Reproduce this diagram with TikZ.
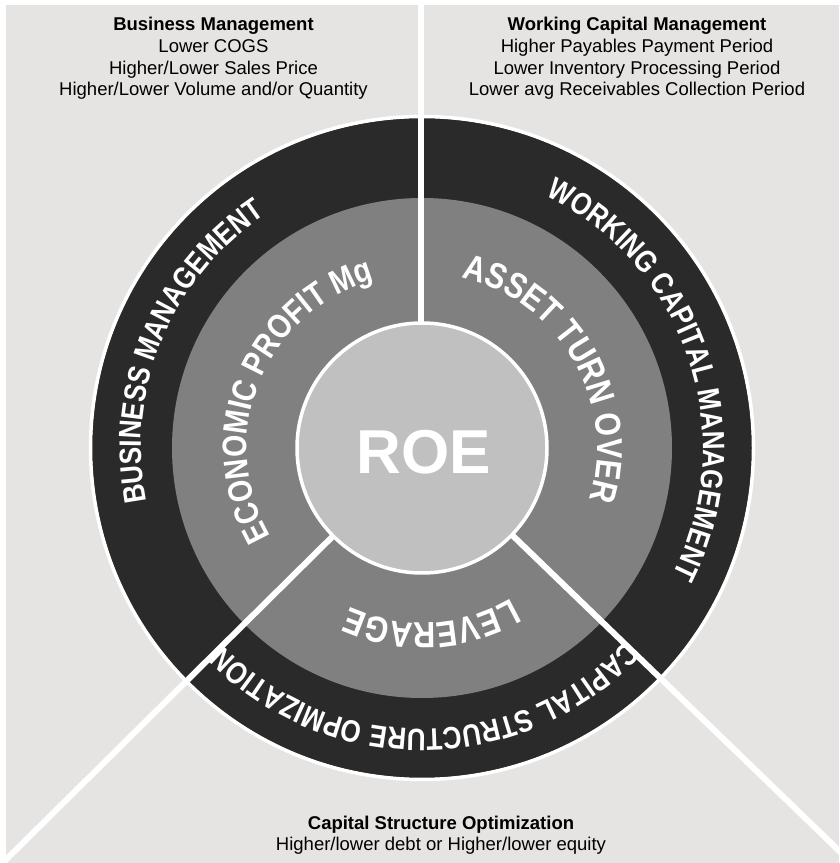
\documentclass[tikz,border=0pt]{standalone}
\usepackage{fontspec}
\setmainfont{Liberation Sans}
\newfontfamily\ringfamily{Liberation Sans}[FakeStretch=0.84]
\usetikzlibrary{calc,decorations.text}

\definecolor{panel}{RGB}{229,228,226}
\definecolor{ringdark}{RGB}{42,42,42}
\definecolor{ringmid}{RGB}{128,128,128}
\definecolor{core}{RGB}{192,192,192}

\newcommand\ringfont[1]{\ringfamily\bfseries\fontsize{#1}{#1}\selectfont}

\tikzset{
  divider/.style={draw=white, line width=6pt},
  infohead/.style={anchor=base, inner sep=0pt, font=\fontsize{18.5}{21.7}\selectfont\bfseries},
  infoline/.style={anchor=base, inner sep=0pt, font=\fontsize{18.5}{21.7}\selectfont},
}

\begin{document}
\begin{tikzpicture}[x=1pt,y=1pt]
\useasboundingbox (0,0) rectangle (839,863);
\clip (0,0) rectangle (839,863);
\fill[white] (0,0) rectangle (839,863);
\fill[panel] (6,0) rectangle (839,858);

% centre of the rings
\coordinate (c) at (422,415);

% rings
\fill[ringdark] (c) circle[radius=330];
\draw[white, line width=3.5pt] (c) circle[radius=331.5];
\fill[ringmid] (c) circle[radius=250];

% dividing lines between the three fields
\coordinate (topend) at (421,863);
\coordinate (topstart) at (421,415);
\coordinate (leftend) at ($(c)+(224.7:640)$);
\coordinate (rightend) at ($(c)+(-44:640)$);
\draw[divider] (topstart) -- (topend);
\draw[divider] (c) -- (leftend);
\draw[divider] (c) -- (rightend);

% core
\node[circle, fill=core, draw=white, line width=3.5pt, minimum size=250pt, inner sep=0pt] (core) at (c) {};
\node[text=white, inner sep=0pt, font=\fontsize{62}{62}\selectfont\bfseries] (roe) at (424,410.5) {ROE};

% outer ring labels
\path[decorate, decoration={text along path, text align=center, text color=white,
  text={|\ringfont{31}|BUSINESS MANAGEMENT}}]
  ($(c)+(247.4:281)$) arc[start angle=247.4, end angle=67.4, radius=281];
\path[decorate, decoration={text along path, text align=center, text color=white,
  text={|\ringfont{31}|WORKING CAPITAL MANAGEMENT}}]
  ($(c)+(108.5:281)$) arc[start angle=108.5, end angle=-71.5, radius=281];
\path[decorate, decoration={text along path, text align=center, text color=white,
  text={|\ringfont{31}|CAPITAL STRUCTURE OPMIZATION}}]
  ($(c)+(0.8:281)$) arc[start angle=0.8, end angle=-179.2, radius=281];

% inner ring labels
\path[decorate, decoration={text along path, text align=center, text color=white,
  text={|\ringfont{34}|ECONOMIC PROFIT Mg}}]
  ($(c)+(248:175)$) arc[start angle=248, end angle=68, radius=175];
\path[decorate, decoration={text along path, text align=center, text color=white,
  text={|\ringfont{36}|ASSET TURN OVER}}]
  ($(c)+(119.9:175)$) arc[start angle=119.9, end angle=-60.1, radius=175];
\path[decorate, decoration={text along path, text align=center, text color=white,
  text={|\ringfont{36.5}|LEVERAGE}}]
  ($(c)+(3:175)$) arc[start angle=3, end angle=-177, radius=175];

% field descriptions
\node[infohead] (bm0) at (213.5,832) {Business Management};
\node[infoline] (bm1) at (213.5,810.3) {Lower COGS};
\node[infoline] (bm2) at (213.5,788.7) {Higher/Lower Sales Price};
\node[infoline] (bm3) at (213.5,767) {Higher/Lower Volume and/or Quantity};

\node[infohead] (wc0) at (637,832) {Working Capital Management};
\node[infoline] (wc1) at (637,810.3) {Higher Payables Payment Period};
\node[infoline] (wc2) at (637,788.7) {Lower Inventory Processing Period};
\node[infoline] (wc3) at (637,767) {Lower avg Receivables Collection Period};

\node[infohead] (cs0) at (441,34) {Capital Structure Optimization};
\node[infoline] (cs1) at (441,12.5) {Higher/lower debt or Higher/lower equity};
\end{tikzpicture}
\end{document}
